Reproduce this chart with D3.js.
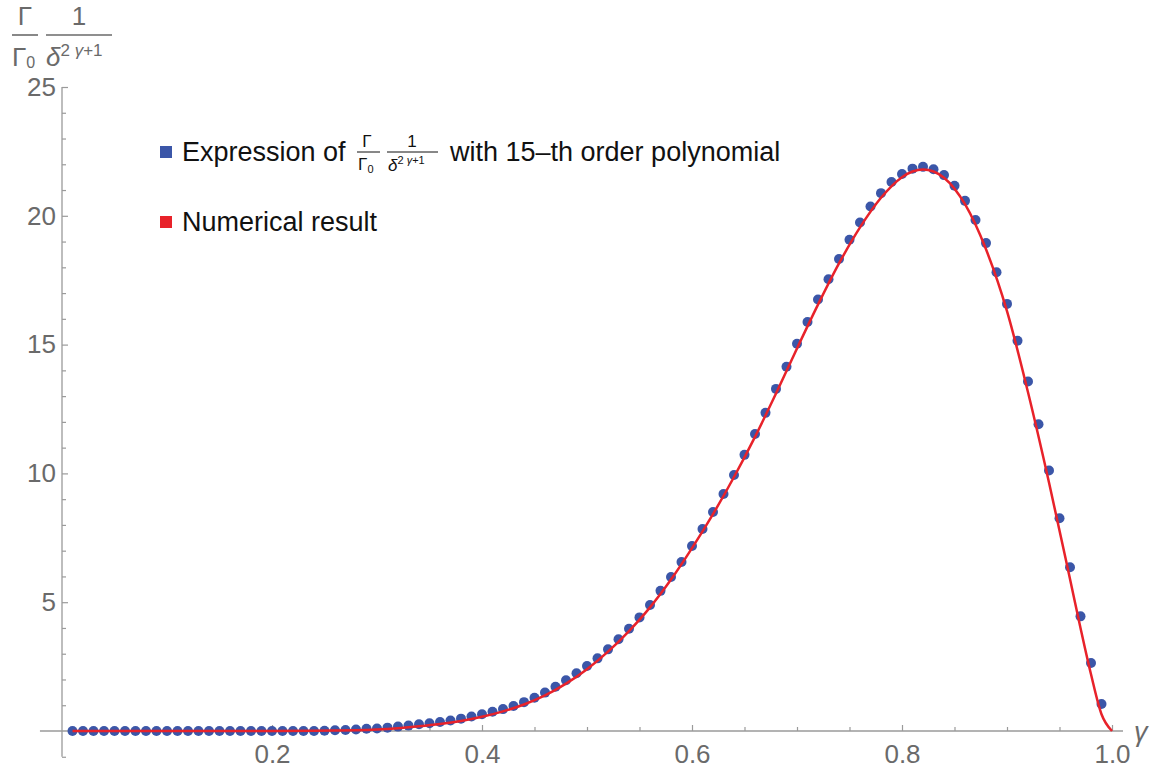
<!DOCTYPE html>
<html><head><meta charset="utf-8">
<script src="https://cdn.jsdelivr.net/npm/d3@7"></script>
<style>body{margin:0;background:#fff} svg{display:block}</style>
</head><body>
<svg id="c" width="1152" height="771"></svg>
<script>
// ---- data ----
const dotGamma = [0.01,0.02,0.03,0.04,0.05,0.06,0.07,0.08,0.09,0.10,
  0.11,0.12,0.13,0.14,0.15,0.16,0.17,0.18,0.19,0.20,
  0.21,0.22,0.23,0.24,0.25,0.26,0.27,0.28,0.29,0.30,
  0.31,0.32,0.33,0.34,0.35,0.36,0.37,0.38,0.39,0.40,
  0.41,0.42,0.43,0.44,0.45,0.46,0.47,0.48,0.49,0.50,
  0.51,0.52,0.53,0.54,0.55,0.56,0.57,0.58,0.59,0.60,
  0.61,0.62,0.63,0.64,0.65,0.66,0.67,0.68,0.69,0.70,
  0.71,0.72,0.73,0.74,0.75,0.76,0.77,0.78,0.79,0.80,
  0.81,0.82,0.83,0.84,0.85,0.86,0.87,0.88,0.89,0.90,
  0.91,0.92,0.93,0.94,0.95,0.96,0.97,0.98,0.99];
const dotValue = [0,0,0,0,0,0,0,0,0,0,
  0,0,0,0,0,0,0,0,0,0,
  0,0,0,0,0.01,0.03,0.04,0.06,0.09,0.10,
  0.13,0.17,0.21,0.26,0.30,0.35,0.41,0.48,0.56,0.65,
  0.75,0.85,0.97,1.12,1.29,1.49,1.72,1.97,2.24,2.52,
  2.82,3.17,3.56,3.97,4.41,4.89,5.44,5.98,6.56,7.18,
  7.84,8.50,9.20,9.94,10.72,11.53,12.35,13.28,14.14,15.03,
  15.88,16.75,17.54,18.32,19.07,19.74,20.36,20.88,21.31,21.62,
  21.83,21.90,21.81,21.58,21.17,20.58,19.84,18.94,17.81,16.58,
  15.15,13.57,11.91,10.11,8.26,6.36,4.45,2.64,1.05];

const curveGamma = [0.01,0.05,0.10,0.15,0.20,0.24,0.26,0.28,0.30,0.32,0.34,0.36,0.38,0.40,
  0.42,0.44,0.46,0.48,0.50,0.52,0.54,0.56,0.58,0.60,0.62,0.64,0.66,0.68,0.70,0.72,0.74,
  0.76,0.78,0.80,0.81,0.82,0.83,0.84,0.86,0.88,0.90,0.92,0.94,0.96,0.97,0.98,0.99,1.00];
const curveValue = [0,0,0,0,0,0.005,0.015,0.03,0.06,0.11,0.18,0.27,0.39,0.55,
  0.76,1.03,1.38,1.84,2.40,3.08,3.88,4.80,5.88,7.10,8.42,9.86,11.42,13.10,14.85,16.55,18.15,
  19.55,20.70,21.50,21.72,21.80,21.72,21.48,20.45,18.70,16.30,13.15,9.65,5.90,4.00,2.20,0.65,0];

const xMajorTicks = [0.2,0.4,0.6,0.8,1.0];
const xTickLabels = ["0.2","0.4","0.6","0.8","1.0"];
const xMinorTicks = [0.05,0.1,0.15,0.25,0.3,0.35,0.45,0.5,0.55,0.65,0.7,0.75,0.85,0.9,0.95];
const yMajorTicks = [5,10,15,20,25];
const yTickLabels = ["5","10","15","20","25"];
const yMinorTicks = [-1,1,2,3,4,6,7,8,9,11,12,13,14,16,17,18,19,21,22,23,24];
const xExtent = [-0.021, 1.0105];
const yExtent = [-1, 25];

// ---- drawing ----
const svg = d3.select("#c");
const FONT = "'Liberation Sans', Arial, Helvetica, sans-serif";
const AX = "#9a9a9a", TXT = "#6a6a6a";
const BLUE = "#3b56a8", RED = "#e8222a";

const x = d3.scaleLinear().domain([0,1]).range([62,1112]);
const y = d3.scaleLinear().domain([0,25]).range([731,87]);

// axes lines
svg.append("line").attr("x1", x(xExtent[0])).attr("x2", x(xExtent[1]))
  .attr("y1", y(0)).attr("y2", y(0)).attr("stroke", AX).attr("stroke-width", 1.3);
svg.append("line").attr("x1", x(0)).attr("x2", x(0))
  .attr("y1", y(yExtent[0])).attr("y2", y(yExtent[1])).attr("stroke", AX).attr("stroke-width", 1.3);

// x ticks
const gx = svg.append("g").attr("transform", `translate(0,${y(0)})`);
gx.call(d3.axisBottom(x).tickValues(xMajorTicks).tickSizeInner(-6).tickSizeOuter(0).tickPadding(14)
  .tickFormat((d,i) => xTickLabels[i]));
const gxm = svg.append("g").attr("transform", `translate(0,${y(0)})`);
gxm.call(d3.axisBottom(x).tickValues(xMinorTicks).tickSizeInner(-4).tickSizeOuter(0).tickFormat(""));
// y ticks
const gy = svg.append("g").attr("transform", `translate(${x(0)},0)`);
gy.call(d3.axisLeft(y).tickValues(yMajorTicks).tickSizeInner(-6).tickSizeOuter(0).tickPadding(6)
  .tickFormat((d,i) => yTickLabels[i]));
const gym = svg.append("g").attr("transform", `translate(${x(0)},0)`);
gym.call(d3.axisLeft(y).tickValues(yMinorTicks).tickSizeInner(-4).tickSizeOuter(0).tickFormat(""));

svg.selectAll(".domain").remove();
svg.selectAll(".tick line").attr("stroke", AX).attr("stroke-width", 1.2);
svg.selectAll(".tick text").attr("fill", TXT).attr("font-family", FONT).attr("font-size", 26);

// axis labels
svg.append("text").attr("x", 1134).attr("y", 741).attr("font-family", FONT).attr("font-style", "italic")
  .attr("font-size", 27).attr("fill", TXT).text("γ");

const yl = svg.append("g").attr("fill", TXT).attr("font-family", FONT);
yl.append("text").attr("x", 25).attr("y", 25).attr("text-anchor", "middle").attr("font-size", 26).text("Γ");
yl.append("line").attr("x1", 12).attr("x2", 38).attr("y1", 35).attr("y2", 35).attr("stroke", TXT).attr("stroke-width", 1.6);
yl.append("text").attr("x", 79).attr("y", 25).attr("text-anchor", "middle").attr("font-size", 26).text("1");
yl.append("line").attr("x1", 46).attr("x2", 112).attr("y1", 35).attr("y2", 35).attr("stroke", TXT).attr("stroke-width", 1.6);
const yd1 = yl.append("text").attr("x", 12).attr("y", 66).attr("font-size", 26);
yd1.append("tspan").text("Γ");
yd1.append("tspan").attr("font-size", 16).attr("dy", 2).text("0");
const yd2 = yl.append("text").attr("x", 46).attr("y", 66).attr("font-size", 26);
yd2.append("tspan").attr("font-style", "italic").text("δ");
yd2.append("tspan").attr("font-size", 17).attr("dy", -10).text("2 ");
yd2.append("tspan").attr("font-size", 17).attr("font-style", "italic").text("γ");
yd2.append("tspan").attr("font-size", 17).text("+1");

// data: dots then curve
svg.append("g").selectAll("circle").data(dotGamma).join("circle")
  .attr("cx", d => x(d)).attr("cy", (d,i) => y(dotValue[i])).attr("r", 5).attr("fill", BLUE);

const line = d3.line().x((d,i) => x(d)).y((d,i) => y(curveValue[i])).curve(d3.curveMonotoneX);
svg.append("path").attr("d", line(curveGamma)).attr("fill", "none").attr("stroke", RED)
  .attr("stroke-width", 2.5).attr("stroke-linejoin", "round");

// legend
const lg = svg.append("g").attr("font-family", FONT).attr("fill", "#111");
lg.append("rect").attr("x", 160).attr("y", 146).attr("width", 12).attr("height", 12).attr("fill", BLUE);
lg.append("rect").attr("x", 160).attr("y", 216).attr("width", 12).attr("height", 12).attr("fill", RED);
lg.append("text").attr("x", 182).attr("y", 161).attr("font-size", 27).text("Expression of");
// fraction Γ/Γ0
lg.append("text").attr("x", 367).attr("y", 147).attr("text-anchor", "middle").attr("font-size", 17).text("Γ");
lg.append("line").attr("x1", 357).attr("x2", 380).attr("y1", 152).attr("y2", 152).attr("stroke", "#111").attr("stroke-width", 1);
const lf1 = lg.append("text").attr("x", 358).attr("y", 170).attr("font-size", 17);
lf1.append("tspan").text("Γ");
lf1.append("tspan").attr("font-size", 11).attr("dy", 3).text("0");
// fraction 1/δ^(2γ+1)
lg.append("text").attr("x", 412).attr("y", 147).attr("text-anchor", "middle").attr("font-size", 17).text("1");
lg.append("line").attr("x1", 387).attr("x2", 438).attr("y1", 152).attr("y2", 152).attr("stroke", "#111").attr("stroke-width", 1);
const lf2 = lg.append("text").attr("x", 388).attr("y", 171).attr("font-size", 17);
lf2.append("tspan").attr("font-style", "italic").text("δ");
lf2.append("tspan").attr("font-size", 11).attr("dy", -7).text("2 ");
lf2.append("tspan").attr("font-size", 11).attr("font-style", "italic").text("γ");
lf2.append("tspan").attr("font-size", 11).text("+1");
lg.append("text").attr("x", 450).attr("y", 161).attr("font-size", 27).text("with 15–th order polynomial");
lg.append("text").attr("x", 182).attr("y", 231).attr("font-size", 27).text("Numerical result");
</script>
</body></html>
